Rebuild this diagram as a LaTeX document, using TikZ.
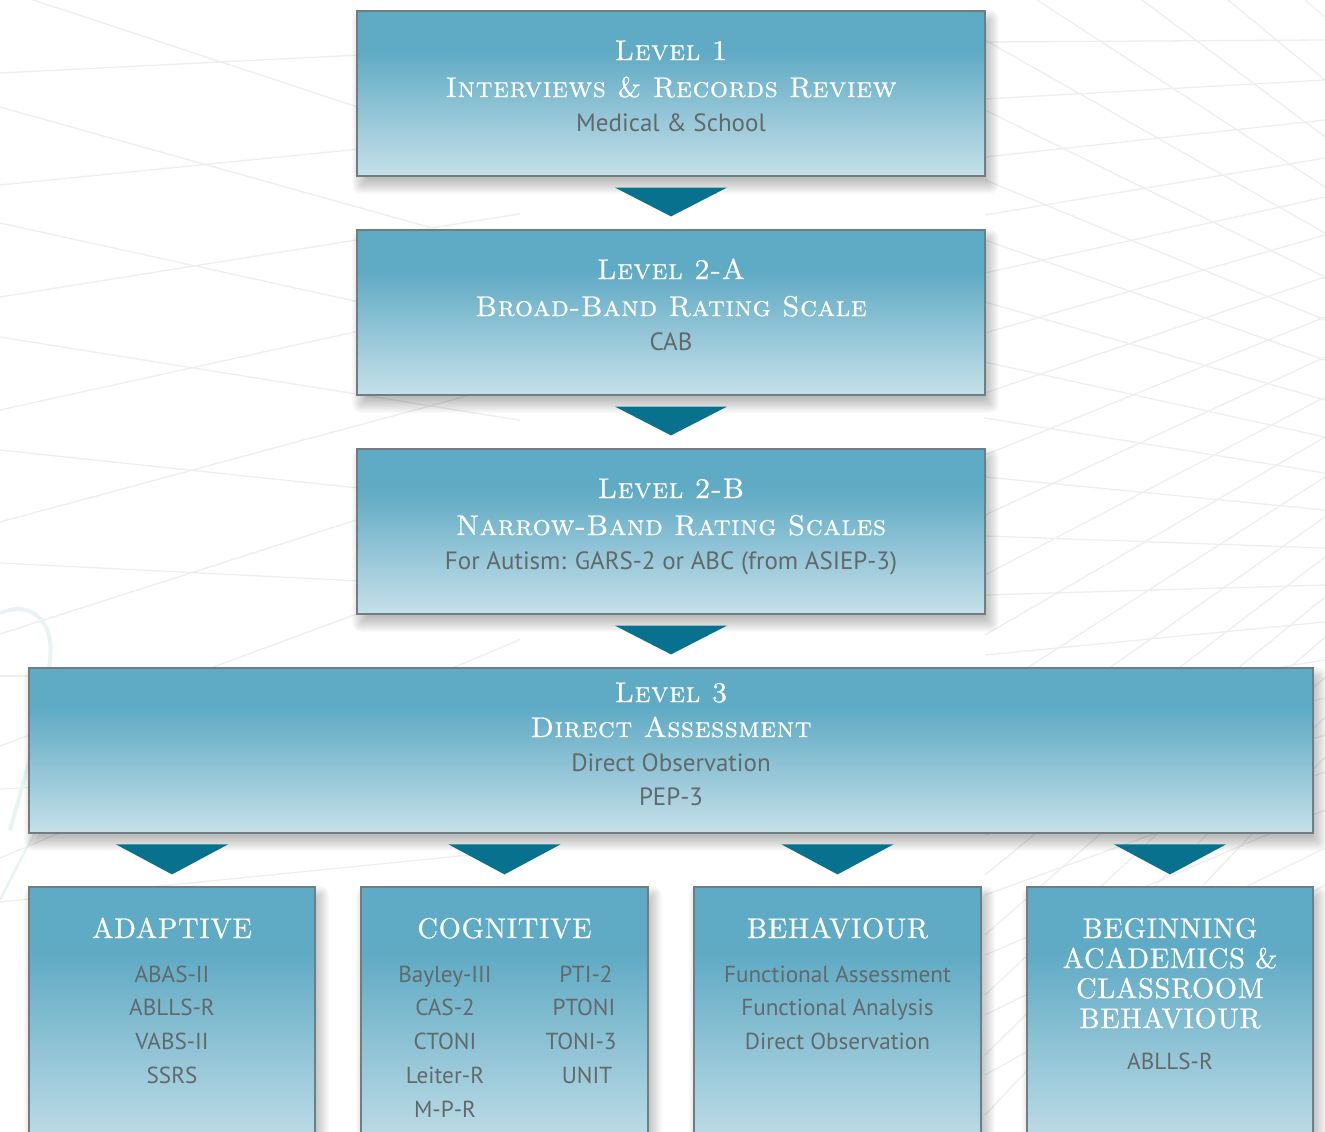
\documentclass[tikz,border=0pt]{standalone}
\usepackage{fontspec}
\newfontfamily\grsans{PT Sans}
\newfontfamily\ttlfont{lmroman10-regular.otf}[FakeBold=0.6, LetterSpace=2, SmallCapsFont=lmromancaps10-regular.otf, SmallCapsFeatures={FakeBold=0.6, LetterSpace=2}]
\newfontfamily\capfont{lmroman10-regular.otf}[FakeBold=0.6, LetterSpace=2.5]
\usetikzlibrary{calc}
\definecolor{boxhi}{HTML}{5FAAC4}
\definecolor{boxlo}{HTML}{C6E0E9}
\definecolor{boxedge}{HTML}{6F7E83}
\definecolor{arrowc}{HTML}{08728E}
\definecolor{txtgrey}{HTML}{62696B}
\definecolor{bgline}{HTML}{EEEEEE}
\definecolor{bgteal}{HTML}{E8F4F4}
\pgfdeclareverticalshading{boxgrad}{100bp}{color(0bp)=(boxlo); color(25bp)=(boxlo); color(63bp)=(boxhi); color(100bp)=(boxhi)}
\pgfdeclarelayer{bglayer}
\pgfdeclarelayer{shadowlayer}
\pgfsetlayers{bglayer,shadowlayer,main}
\begin{document}
\begin{tikzpicture}[x=1pt,y=-1pt,
  stagebox/.style={draw=boxedge, line width=1.2pt, shading=boxgrad, inner sep=0pt},
  ttl/.style={text=white, font=\ttlfont\fontsize{28.5}{30}\selectfont\scshape, inner sep=0pt, anchor=base},
  capttl/.style={text=white, font=\capfont\fontsize{28.5}{30}\selectfont, inner sep=0pt, anchor=base},
  sub/.style={text=txtgrey, font=\grsans\fontsize{25}{28}\selectfont, inner sep=0pt, anchor=base},
  item/.style={text=txtgrey, font=\grsans\fontsize{23.2}{26}\selectfont, inner sep=0pt, anchor=base},
  pointer/.style={fill=arrowc},
  bgl/.style={draw=bgline, line width=1.3pt},
  softshadow/.style={fill=black, fill opacity=0.035},
]
\clip (0,0) rectangle (1325,1132);

% stage boxes
\node[stagebox, minimum width=628pt, minimum height=165pt] (l1) at (671,93.5) {};
\node[stagebox, minimum width=628pt, minimum height=165pt] (l2a) at (671,312.5) {};
\node[stagebox, minimum width=628pt, minimum height=165pt] (l2b) at (671,531.5) {};
\node[stagebox, minimum width=1284pt, minimum height=165pt] (l3) at (671,750.5) {};
\node[stagebox, minimum width=286pt, minimum height=270pt] (b1) at (172,1022) {};
\node[stagebox, minimum width=287pt, minimum height=270pt] (b2) at (504.5,1022) {};
\node[stagebox, minimum width=287pt, minimum height=270pt] (b3) at (837.5,1022) {};
\node[stagebox, minimum width=286pt, minimum height=270pt] (b4) at (1170,1022) {};

\begin{pgfonlayer}{bglayer}
\fill[white] (0,0) rectangle (1325,1132);
% background lattice
\foreach \a/\s in {-11/0.33,107/0.28,223/0.22,337/0.16,450/0.106,563/0.05,676/0.0,789/-0.05,902/-0.1}
  \draw[bgl] (0,\a) -- (520,{\a+520*\s});
\foreach \a/\s in {73/-0.05,185/-0.10,297/-0.16,410/-0.22,522/-0.27,634/-0.32,746/-0.37,858/-0.42}
  \draw[bgl] (0,\a) -- (520,{\a+520*\s});
\foreach \a/\b in {40/233,110/277,180/320,240/360,302/400,362/437,418/473,477/510,536/548,595/585,655/622,715/660,775/698,835/735,895/772,955/810,1015/848,1075/885}
  \draw[bgl] (985,\a) -- (1325,\b);
\foreach \a/\b in {42/40,99/80,157/120,215/158,273/197,333/235,393/277,455/317,515/357,575/397,635/437,695/477,755/517,815/557,875/597,935/637,995/677,1055/717,1115/757}
  \draw[bgl] (985,\a) -- (1325,\b);
\draw[bgl] (1037,0) -- (1325,187);
\draw[bgl] (1142,0) -- (1325,137);
\draw[bgl] (1228,0) -- (1325,80);
\draw[bgl] (1305,0) -- (1325,17);
\draw[bgteal, line width=4pt] (0,613) .. controls (30,600) and (55,620) .. (50,660) .. controls (46,700) and (30,760) .. (10,830);
\draw[bgteal, line width=2.5pt] (0,900) .. controls (40,820) and (80,750) .. (110,700);
\end{pgfonlayer}

\begin{pgfonlayer}{shadowlayer}
\foreach \n in {l1,l2a,l2b,l3,b1,b2,b3,b4}
  \foreach \r in {-5,-3,-1,1,3,5,7,9}
    \fill[softshadow, rounded corners={max(\r,1)}]
      ($(\n.north west)+({5-\r},{9-\r})$) rectangle ($(\n.south east)+({4+\r},{8+\r})$);
\end{pgfonlayer}

% pointers
\fill[pointer] ($(l1.south)+(-56,11)$) -- ($(l1.south)+(56,11)$) -- ($(l2a.north)+(0,-13)$) -- cycle;
\fill[pointer] ($(l2a.south)+(-56,11)$) -- ($(l2a.south)+(56,11)$) -- ($(l2b.north)+(0,-13)$) -- cycle;
\fill[pointer] ($(l2b.south)+(-56,11)$) -- ($(l2b.south)+(56,11)$) -- ($(l3.north)+(0,-13)$) -- cycle;
\foreach \b in {b1,b2,b3,b4}
  \fill[pointer] ($(\b.north)+(-56,-42)$) -- ($(\b.north)+(56,-42)$) -- ($(\b.north)+(0,-12)$) -- cycle;

% texts level 1
\node[ttl] (t1a) at (671,60) {Level 1};
\node[ttl] (t1b) at (671,97) {Interviews \& Records Review};
\node[sub] (t1c) at (671,131) {Medical \& School};
% level 2-A
\node[ttl] (t2a) at (671,279) {Level 2-A};
\node[ttl] (t2b) at (671,316) {Broad-Band Rating Scale};
\node[sub] (t2c) at (671,350) {CAB};
% level 2-B
\node[ttl] (t3a) at (671,498) {Level 2-B};
\node[ttl] (t3b) at (671,535) {Narrow-Band Rating Scales};
\node[sub] (t3c) at (671,569) {For Autism: GARS-2 or ABC (from ASIEP-3)};
% level 3
\node[ttl] (t4a) at (671,702) {Level 3};
\node[ttl] (t4b) at (671,737) {Direct Assessment};
\node[sub] (t4c) at (671,771) {Direct Observation};
\node[sub] (t4d) at (671,805) {PEP-3};

% adaptive
\node[capttl] (a0) at (172,938) {ADAPTIVE};
\node[item] (a1) at (172,982) {ABAS-II};
\node[item] (a2) at (172,1015.5) {ABLLS-R};
\node[item] (a3) at (172,1049) {VABS-II};
\node[item] (a4) at (172,1083) {SSRS};
% cognitive
\node[capttl] (c0) at (504.5,938) {COGNITIVE};
\node[item] (c1) at (445,982) {Bayley-III};
\node[item] (c2) at (445,1015.5) {CAS-2};
\node[item] (c3) at (445,1049) {CTONI};
\node[item] (c4) at (445,1083) {Leiter-R};
\node[item] (c5) at (445,1117) {M-P-R};
\node[item] (c6) at (586,982) {PTI-2};
\node[item] (c7) at (584,1015.5) {PTONI};
\node[item] (c8) at (581,1049) {TONI-3};
\node[item] (c9) at (587,1083) {UNIT};
% behaviour
\node[capttl] (h0) at (837.5,938) {BEHAVIOUR};
\node[item] (h1) at (837.5,982) {Functional Assessment};
\node[item] (h2) at (837.5,1015.5) {Functional Analysis};
\node[item] (h3) at (837.5,1049) {Direct Observation};
% beginning academics
\node[capttl] (g0) at (1170,938) {BEGINNING};
\node[capttl] (g1) at (1170,968) {ACADEMICS \&};
\node[capttl] (g2) at (1170,998) {CLASSROOM};
\node[capttl] (g3) at (1170,1028) {BEHAVIOUR};
\node[item] (g4) at (1170,1069) {ABLLS-R};
\end{tikzpicture}
\end{document}
